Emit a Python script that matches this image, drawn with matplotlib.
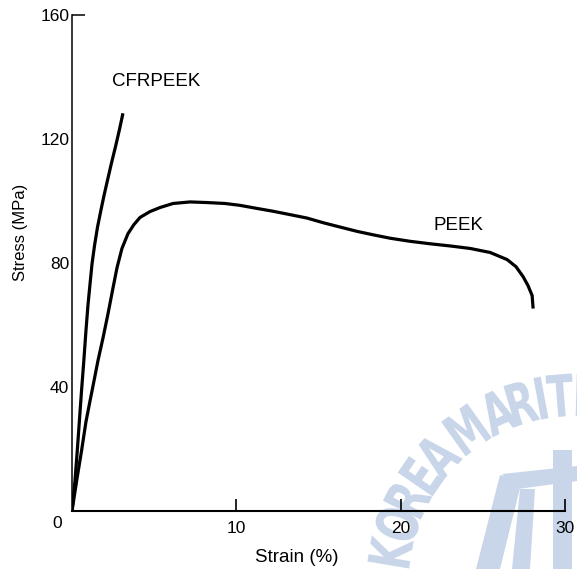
import numpy as np
import matplotlib
matplotlib.use("Agg")
import matplotlib.pyplot as plt
from matplotlib.patches import Polygon, PathPatch
from matplotlib.textpath import TextPath
from matplotlib.font_manager import FontProperties
from matplotlib.transforms import Affine2D

# tensile curves, strain in %, stress in MPa
cfrpeek_strain = [0, 0.18, 0.32, 0.45, 0.58, 0.72, 0.85, 0.97, 1.10, 1.22,
                  1.37, 1.55, 1.77, 1.95, 2.16, 2.40, 2.65, 2.89, 3.10]
cfrpeek_stress = [0, 9.7, 19.4, 29.1, 38.8, 48.5, 58.2, 66.3, 73.4, 79.8,
                  85.6, 91.5, 97.3, 101.8, 106.7, 112.2, 117.6, 123.1, 128.3]

peek_strain = [0, 0.30, 0.58, 0.85, 1.10, 1.34, 1.58, 1.89, 2.19, 2.50,
               2.74, 3.04, 3.41, 3.77, 4.14, 4.75, 5.36, 6.15, 7.18, 8.22,
               9.31, 10.22, 11.26, 12.23, 13.27, 14.30, 15.28, 16.31, 17.35,
               18.32, 19.35, 20.57, 21.79, 23.01, 24.22, 25.44, 26.48, 27.02,
               27.45, 27.75, 28.0, 28.06]
peek_stress = [0, 10.3, 19.4, 28.8, 35.6, 42.0, 48.5, 55.9, 63.6, 72.1,
               78.5, 84.7, 89.5, 92.4, 94.7, 96.6, 97.9, 99.2, 99.7, 99.5,
               99.2, 98.6, 97.6, 96.7, 95.6, 94.5, 93.0, 91.6, 90.2,
               89.1, 88.0, 87.0, 86.2, 85.5, 84.7, 83.4, 81.1, 78.8,
               75.6, 72.7, 69.5, 65.3]

x_ticks = [10, 20, 30]
y_ticks = [40, 80, 120, 160]

W, H = 577, 569


def draw_seal(fig):
    # faint library stamp behind the plot
    col = "#c9d6ea"
    to_fig = Affine2D().scale(1 / W, 1 / H) + fig.transFigure
    prop = FontProperties(family="DejaVu Sans", weight="bold")
    letters = "KOREAMARITI"
    angles = [170.5, 162, 153.5, 145.5, 137.5, 125.5, 114.5, 106.5, 100.5, 94.5, 88.5]
    cx0, cy0, rad = 575, 582, 187
    for ch, a in zip(letters, angles):
        tp = TextPath((0, 0), ch, size=58, prop=prop)
        bb = tp.get_extents()
        mx, my = (bb.x0 + bb.x1) / 2, (bb.y0 + bb.y1) / 2
        th = np.radians(a)
        px = cx0 + rad * np.cos(th)
        py = H - (cy0 - rad * np.sin(th))
        tr = (Affine2D().translate(-mx, -my).scale(0.68, 1)
              .rotate_deg(a - 90).translate(px, py)) + to_fig
        fig.add_artist(PathPatch(tp, transform=tr, fc=col, ec="none", zorder=-1))

    shapes = [
        [(476, 569), (500, 569), (522, 480), (500, 475)],
        [(502, 474), (577, 466), (577, 481), (518, 489)],
        [(512, 569), (530, 569), (535, 489), (520, 489)],
        [(553, 450), (572, 450), (572, 569), (553, 569)],
    ]
    for pts in shapes:
        xy = [(x / W, 1 - y / H) for x, y in pts]
        fig.add_artist(Polygon(xy, closed=True, fc=col, ec="none",
                               transform=fig.transFigure, zorder=-1))


plt.rcParams["font.family"] = "Liberation Sans"

fig = plt.figure(figsize=(W / 100, H / 100), dpi=100)
fig.patch.set_facecolor("white")
ax = fig.add_axes([72 / W, 1 - 511 / H, 493 / W, 496 / H])
ax.patch.set_visible(False)
draw_seal(fig)

ax.plot(cfrpeek_strain, cfrpeek_stress, color="black", lw=2.3,
        solid_capstyle="butt", solid_joinstyle="round")
ax.plot(peek_strain, peek_stress, color="black", lw=2.3,
        solid_capstyle="butt", solid_joinstyle="round")

ax.set_xlim(0, 30)
ax.set_ylim(0, 160)

for side in ("top", "right"):
    ax.spines[side].set_visible(False)
ax.spines["left"].set_linewidth(1.1)
ax.spines["bottom"].set_linewidth(1.5)

ax.set_xticks(x_ticks)
ax.set_xticklabels([str(v) for v in x_ticks])
ax.set_yticks(y_ticks)
ax.set_yticklabels([str(v) for v in y_ticks])
ax.tick_params(axis="x", direction="in", length=8.5, width=1.2, pad=7,
               labelsize=12.5)
ax.tick_params(axis="y", length=0, pad=2, labelsize=12.5)

# only the top of the stress axis carries a tick mark
ax.yaxis.remove_overlapping_locs = False
ax.set_yticks([160], minor=True)
ax.tick_params(axis="y", which="minor", direction="in", length=9, width=1.1)

ax.annotate("0", xy=(0, 0), xytext=(-15, -12), textcoords="offset pixels",
            ha="center", va="center", fontsize=12.5)

ax.text(5.1, 138.7, "CFRPEEK", fontsize=13.5, ha="center", va="center")
ax.text(23.5, 92.1, "PEEK", fontsize=13.5, ha="center", va="center")

ax.set_xlabel("Strain (%)", fontsize=13.5)
ax.xaxis.set_label_coords((297 - 72) / 493, -(549 - 511) / 496)
ax.set_ylabel("Stress (MPa)", fontsize=12)
ax.yaxis.set_label_coords(-(72 - 28) / 493, (511 - 232) / 496)

fig.savefig("out.png", dpi=100)
